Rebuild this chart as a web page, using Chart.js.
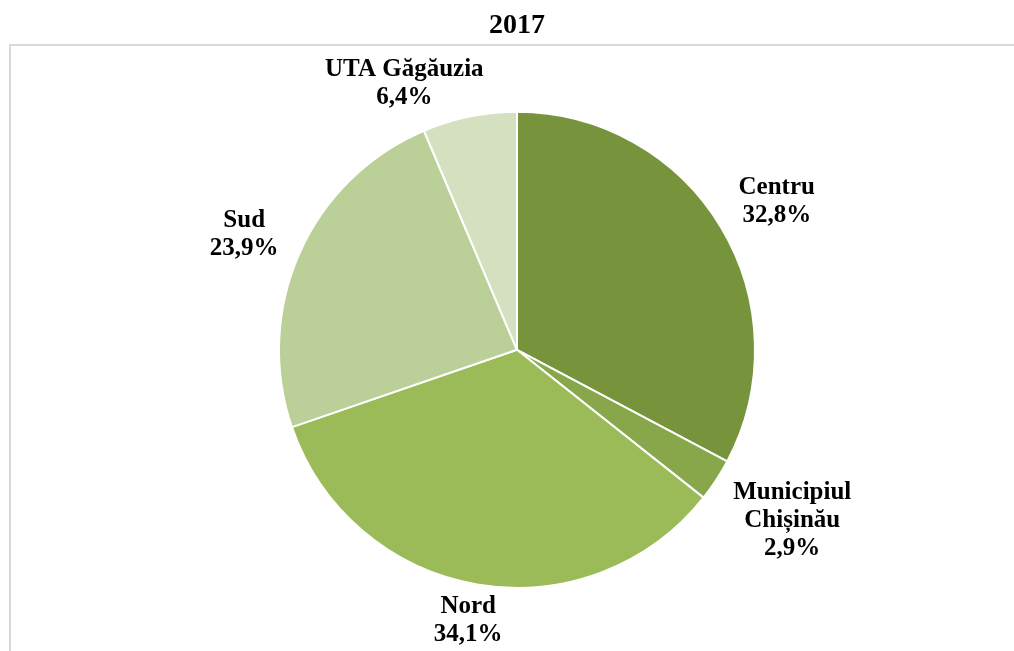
<!DOCTYPE html>
<html>
<head>
<meta charset="utf-8">
<script src="https://cdn.jsdelivr.net/npm/chart.js@4"></script>
<style>
  html, body { margin: 0; padding: 0; background: #fff; overflow: hidden; }
  #wrap { position: relative; width: 1014px; height: 651px; }
  #frame {
    position: absolute; left: 9px; top: 44px; width: 1100px; height: 700px;
    border: 2px solid #d9d9d9;
  }
  canvas { position: absolute; left: 0; top: 0; }
</style>
</head>
<body>
<div id="wrap">
  <div id="frame"></div>
  <canvas id="grafic" width="1014" height="651"></canvas>
</div>
<script>
  // date 2017, pe regiuni (%)
  const regiuni = ['Centru', ['Municipiul', 'Chișinău'], 'Nord', 'Sud', 'UTA Găgăuzia'];
  const procente = [32.8, 2.9, 34.1, 23.9, 6.4];
  const culori = ['#77933c', '#88a74a', '#9bbb59', '#bbcf98', '#d4e0bf'];

  const FONT = '"Liberation Serif", "Times New Roman", serif';

  // etichete in afara feliilor, tinute sub marginea de sus a cadrului
  const eticheteExterioare = {
    id: 'eticheteExterioare',
    afterDatasetsDraw(chart) {
      const ctx = chart.ctx;
      const meta = chart.getDatasetMeta(0);
      ctx.save();
      ctx.font = 'bold 25px ' + FONT;
      ctx.fillStyle = '#000';
      ctx.textAlign = 'center';
      ctx.textBaseline = 'middle';
      const lineH = 28;
      const susMin = 56;
      meta.data.forEach((arc, i) => {
        const nume = regiuni[i];
        const linii = (Array.isArray(nume) ? nume.slice() : [nume]);
        linii.push(procente[i].toFixed(1).replace('.', ',') + '%');
        const w = Math.max(...linii.map(t => ctx.measureText(t).width));
        const h = linii.length * lineH;
        const mid = (arc.startAngle + arc.endAngle) / 2;
        const dx = Math.cos(mid), dy = Math.sin(mid);
        const ext = Math.abs(dx) * w / 2 + Math.abs(dy) * h / 2;
        const d = arc.outerRadius + 12 + ext;
        let cx = arc.x + dx * d * 1.02;
        let cy = arc.y + dy * d * 0.97;
        if (cy - h / 2 < susMin) {
          cy = susMin + h / 2;
          // impinge lateral pana nu mai atinge cercul
          const dir = dx < 0 ? -1 : 1;
          for (let k = 0; k < 400; k++) {
            const nx = Math.max(cx - w / 2, Math.min(arc.x, cx + w / 2));
            const ny = Math.max(cy - h / 2, Math.min(arc.y, cy + h / 2));
            if (Math.hypot(nx - arc.x, ny - arc.y) >= arc.outerRadius + 2) break;
            cx += dir;
          }
        }
        linii.forEach((t, k) => {
          ctx.fillText(t, cx, cy - h / 2 + lineH * (k + 0.5));
        });
      });
      ctx.restore();
    }
  };

  new Chart(document.getElementById('grafic').getContext('2d'), {
    type: 'pie',
    data: {
      labels: regiuni,
      datasets: [{
        data: procente,
        backgroundColor: culori,
        borderColor: '#ffffff',
        borderWidth: 2
      }]
    },
    options: {
      responsive: false,
      animation: false,
      layout: { padding: { left: 278, right: 258, top: 0, bottom: 60 } },
      plugins: {
        legend: { display: false },
        tooltip: { enabled: false },
        title: {
          display: true,
          text: '2017',
          color: '#000',
          font: { family: FONT, size: 28, weight: 'bold' },
          padding: { top: 9, bottom: 66 }
        }
      }
    },
    plugins: [eticheteExterioare]
  });
</script>
</body>
</html>
